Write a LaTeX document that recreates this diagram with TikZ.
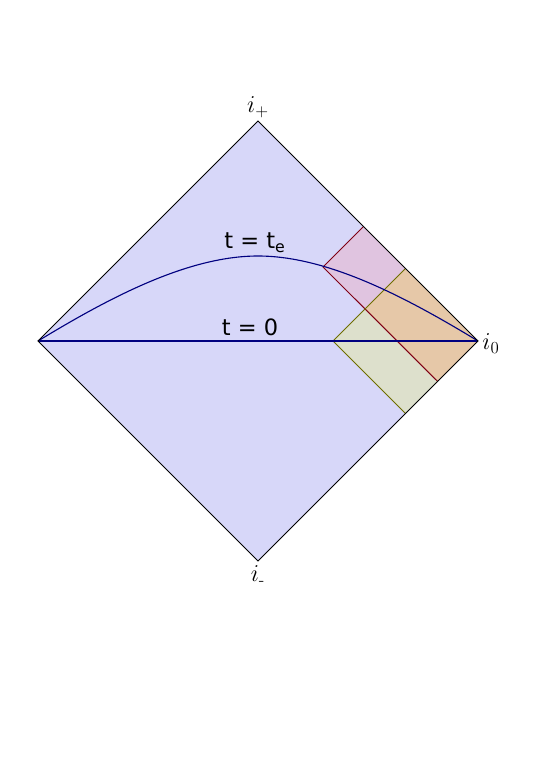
\documentclass[tikz,border=0pt]{standalone}
\usepackage{amsmath}
\usepackage{fontspec}
\newfontfamily\labelfont{DejaVu Sans}
\usetikzlibrary{positioning}
\definecolor{mbg}{HTML}{D7D7F9}
\definecolor{mpink}{HTML}{E0C4E0}
\definecolor{molive}{HTML}{DDE0CC}
\definecolor{mover}{HTML}{E6C8A8}
\definecolor{mred}{HTML}{800014}
\definecolor{mgreen}{HTML}{6E6E00}
\definecolor{mnavy}{HTML}{000080}
\tikzstyle{edge} = [line width=0.6pt, black]
\tikzstyle{slice} = [line width=0.8pt, mnavy]
\tikzstyle{corner} = [inner sep=1pt, font=\LARGE]
\tikzstyle{timelabel} = [inner sep=1pt, font=\labelfont\fontsize{16}{16}\selectfont]

\begin{document}
\begin{tikzpicture}
  \useasboundingbox (-6.45,-10.75) rectangle (7.175,8.525);
  \coordinate (iplus) at (0,5.5);
  \coordinate (izero) at (5.5,0);
  \coordinate (iminus) at (0,-5.5);
  \coordinate (ileft) at (-5.5,0);
  \coordinate (peak) at (0,2.125);
  \coordinate (rl) at (1.625,1.85);
  \coordinate (rt) at (2.6375,2.8625);
  \coordinate (rb) at (4.49,-1.01);
  \coordinate (gl) at (1.875,0);
  \coordinate (gt) at (3.6875,1.8125);
  \coordinate (gb) at (3.6875,-1.8125);
  \coordinate (ov) at (2.675,0.8);
  % regions
  \fill [mbg] (iplus) -- (izero) -- (iminus) -- (ileft) -- cycle;
  \fill [mpink] (rl) -- (rt) -- (izero) -- (rb) -- cycle;
  \fill [molive] (gl) -- (gt) -- (izero) -- (gb) -- cycle;
  \fill [mover] (ov) -- (gt) -- (izero) -- (rb) -- cycle;
  \draw [mred, line width=0.7pt] (rt) -- (rl) -- (rb);
  \draw [mgreen, line width=0.7pt] (gt) -- (gl) -- (gb);
  % slices
  \draw [slice] (ileft) -- (izero);
  \draw [slice] (ileft) .. controls (-3.707,1.088) and (-1.751,2.125) .. (peak)
    .. controls (1.751,2.125) and (3.707,1.088) .. (izero);
  \draw [edge] (iplus) -- (izero) -- (iminus) -- (ileft) -- cycle;
  % labels
  \node (lplus) [corner, above=1pt of iplus] {$i_{\text{+}}$};
  \node (lzero) [corner, right=2pt of izero, yshift=-2pt] {$i_0$};
  \node (lminus) [corner, below=2pt of iminus] {$i_{\text{-}}$};
  \node (te) [timelabel] at (-0.075,2.45) {t = t\textsubscript{e}};
  \node (tzero) [timelabel] at (-0.2,0.35) {t = 0};
\end{tikzpicture}
\end{document}
